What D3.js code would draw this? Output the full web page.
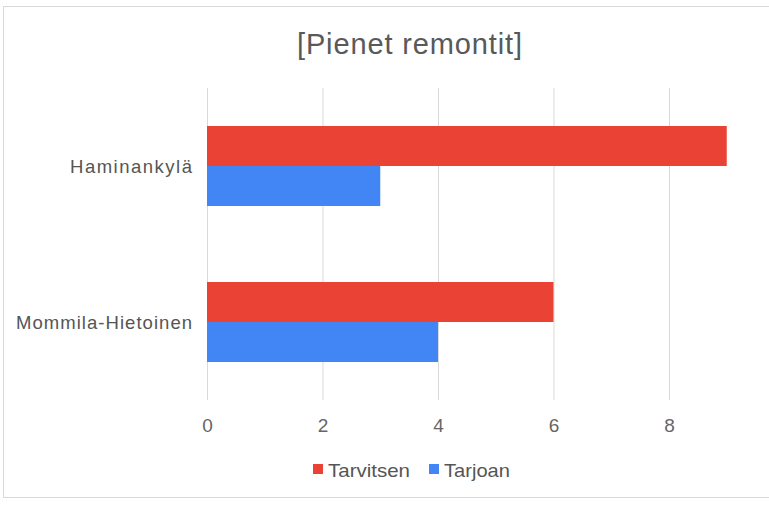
<!DOCTYPE html>
<html><head><meta charset="utf-8">
<script src="https://cdn.jsdelivr.net/npm/d3@7"></script>
<style>body{margin:0;background:#fff}svg{display:block}</style>
</head><body>
<script>
const categories = ["Haminankylä", "Mommila-Hietoinen"];
const seriesNames = ["Tarvitsen", "Tarjoan"];
const tarvitsen = [9, 6];
const tarjoan = [3, 4];
const xTicks = [0, 2, 4, 6, 8];
const colors = ["#ea4335", "#4285f4"];
const title = "[Pienet remontit]";

const W = 769, H = 505;
const FF = "Liberation Sans, Arial, sans-serif";
const svg = d3.select("body").append("svg").attr("width", W).attr("height", H);
svg.append("rect").attr("x", 3.5).attr("y", 6.5).attr("width", W + 10).attr("height", 491)
  .attr("fill", "#fff").attr("stroke", "#d9d9d9");

const m = {left: 207, top: 88, bottom: 400};
const x = d3.scaleLinear().domain([0, 10]).range([207, 207 + 10 * 57.75]);
const y = d3.scaleBand().domain(categories).range([m.top, m.bottom]).paddingInner(0).paddingOuter(0);
const inner = d3.scaleBand().domain(seriesNames).range([0, y.bandwidth()]).paddingOuter(0.95).paddingInner(0);

svg.append("text").attr("x", 409.5).attr("y", 54).attr("text-anchor", "middle")
  .attr("font-family", FF).attr("font-size", 29)
  .attr("textLength", 225).attr("lengthAdjust", "spacing")
  .attr("fill", "#595959").text(title);

const grid = svg.append("g");
grid.selectAll("line").data(xTicks).join("line")
  .attr("x1", d => x(d) + 0.5).attr("x2", d => x(d) + 0.5)
  .attr("y1", m.top).attr("y2", m.bottom).attr("stroke", "#d9d9d9");

const data = categories.map((c, i) => ({c, vals: [tarvitsen[i], tarjoan[i]]}));
const g = svg.append("g");
data.forEach(d => {
  d.vals.forEach((v, j) => {
    g.append("rect").attr("x", x(0)).attr("y", y(d.c) + inner(seriesNames[j]))
      .attr("width", x(v) - x(0)).attr("height", inner.bandwidth()).attr("fill", colors[j]);
  });
});

const xAxis = d3.axisBottom(x).tickValues(xTicks).tickSize(0).tickPadding(0);
const ax = svg.append("g").attr("transform", `translate(0,${m.bottom})`).call(xAxis);
ax.select(".domain").remove();
ax.selectAll("text").attr("dy", null).attr("y", 32).attr("font-family", FF)
  .attr("font-size", 19).attr("fill", "#666");

const labelLen = {"Haminankylä": 122, "Mommila-Hietoinen": 176};
const yAxis = d3.axisLeft(y).tickSize(0).tickPadding(15);
const ay = svg.append("g").attr("transform", `translate(${m.left},0)`).call(yAxis);
ay.select(".domain").remove();
ay.selectAll("text").attr("font-family", FF).attr("dy", "0.36em")
  .attr("font-size", 18.5).attr("fill", "#555")
  .attr("textLength", d => labelLen[d]).attr("lengthAdjust", "spacing");

const leg = svg.append("g");
const legItems = [{n: seriesNames[0], x: 313, len: 82}, {n: seriesNames[1], x: 429, len: 66}];
legItems.forEach((it, i) => {
  leg.append("rect").attr("x", it.x).attr("y", 464).attr("width", 10).attr("height", 10).attr("fill", colors[i]);
  leg.append("text").attr("x", it.x + 15).attr("y", 477).attr("font-family", FF)
    .attr("font-size", 19).attr("fill", "#555")
    .attr("textLength", it.len).attr("lengthAdjust", "spacingAndGlyphs").text(it.n);
});
</script>
</body></html>
